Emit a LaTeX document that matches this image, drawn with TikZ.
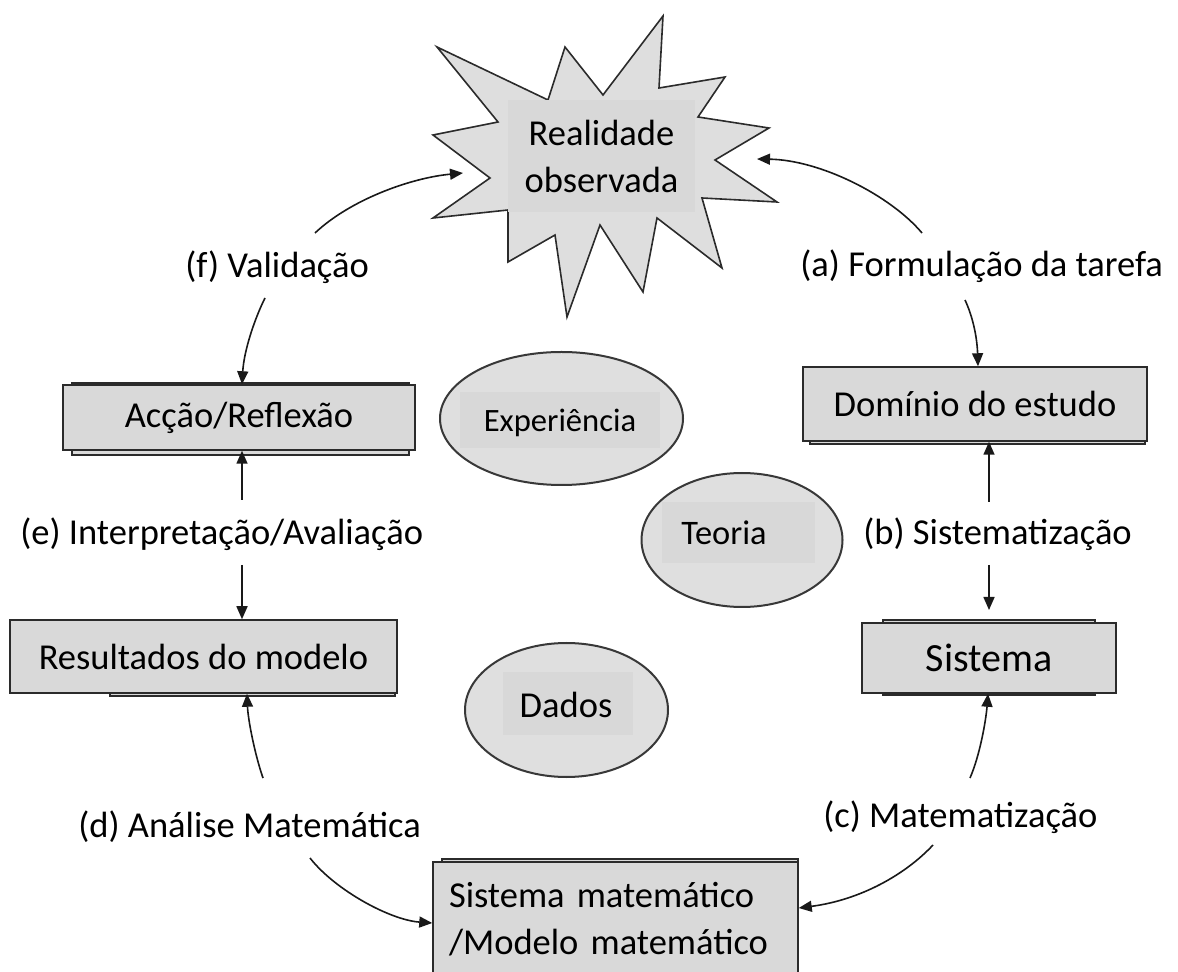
\documentclass[tikz,border=0pt]{standalone}
\usepackage{fontspec}
\setmainfont{Carlito}
\usetikzlibrary{arrows.meta,shapes.geometric}
\definecolor{starfill}{HTML}{DEDEDE}
\definecolor{boxfill}{HTML}{D9D9D9}
\definecolor{ovalfill}{HTML}{DFDFDF}
\definecolor{patchfill}{HTML}{D8D8D8}
\definecolor{edge}{HTML}{2B2B2B}
\begin{document}
\begin{tikzpicture}[x=0.5pt,y=-0.5pt,
  txt/.style={font=\fontsize{18.25}{23.5}\selectfont},
  box/.style={txt, draw=edge, line width=0.75pt, fill=boxfill, inner sep=0pt},
  boxshade/.style={draw=edge, line width=0.9pt, fill=boxfill},
  oval/.style={ellipse, draw=black!78, line width=1pt, fill=ovalfill, inner sep=0pt},
  lbl/.style={txt, anchor=base west, inner sep=0pt},
  arr/.style={line width=0.8pt, black!90, -{Triangle[length=6.5pt,width=5.5pt]}}]
\useasboundingbox (0,0) rectangle (1178,972);

% central burst
\draw[fill=starfill, draw=edge, line width=0.8pt, line join=miter]
  (437,47) -- (548,100) -- (565,47) -- (603,95) -- (663,16) -- (659,88)
  -- (725,77) -- (698,117) -- (769,128) -- (715,160) -- (777,202)
  -- (702,198) -- (722,268) -- (657,218) -- (643,292) -- (600,225)
  -- (567,317) -- (555,235) -- (508,262) -- (508,210) -- (433,218)
  -- (490,178) -- (433,135) -- (498,122) -- cycle;
\node[txt, fill=patchfill, inner sep=0pt, minimum width=93.5pt, minimum height=56pt,
      align=center] (real) at (601.5,156) {Realidade\\observada};

% rectangular stages (shadow edge first, box on top)
\draw[boxshade] (72,383) rectangle (409,455);
\node[box, minimum width=176pt, minimum height=32.5pt] (acc) at (239,417.5) {Acção/Reflexão};
\draw[boxshade] (110,625) rectangle (395,696);
\node[box, minimum width=193.5pt, minimum height=36.5pt] (res) at (203.5,656.5) {Resultados do modelo};
\draw[boxshade] (810,372) rectangle (1145,444);
\node[box, minimum width=172pt, minimum height=37pt] (dom) at (975,404) {Domínio do estudo};
\draw[boxshade] (883,620) rectangle (1095,695);
\node[box, minimum width=127pt, minimum height=35pt, font=\fontsize{20}{24}\selectfont] (sis) at (989,658) {Sistema};
\draw[boxshade] (442,859) rectangle (798,990);
\node[box, minimum width=182.5pt, minimum height=57pt, inner xsep=8pt, text width=166.5pt,
      align=left] (mat) at (615.5,919) {Sistema matemático\\/Modelo matemático};

% knowledge sources
\node[oval, minimum width=121.5pt, minimum height=66.5pt] (exp) at (561.5,418.5) {};
\fill[patchfill] (460,392) rectangle (660,448);
\node[anchor=base, inner sep=0pt, font=\fontsize{16.3}{20}\selectfont] (expt) at (560,432) {Experiência};
\node[oval, minimum width=100.5pt, minimum height=67pt] (teo) at (742,540) {};
\fill[patchfill] (662,502) rectangle (815,563);
\node[anchor=base, inner sep=0pt, font=\fontsize{17.2}{20}\selectfont] (teot) at (724,545) {Teoria};
\node[oval, minimum width=101.5pt, minimum height=67pt] (dad) at (566.5,710) {};
\fill[patchfill] (503,672) rectangle (633,735);
\node[txt, anchor=base, inner sep=0pt] (dadt) at (566,717) {Dados};

% step labels
\node[lbl] (la) at (800,277) {(a) Formulação da tarefa};
\node[lbl] (lb) at (863,545) {(b) Sistematização};
\node[lbl] (lc) at (823,827) {(c) Matematização};
\node[lbl] (ld) at (78,837) {(d) Análise Matemática};
\node[lbl] (le) at (20,545) {(e) Interpretação/Avaliação};
\node[lbl] (lf) at (185,278) {(f) Validação};

% free ends of the connectors
\coordinate (starL) at (463,173);
\coordinate (starR) at (757,159);
\coordinate (aU) at (922,233);
\coordinate (aD) at (965,300);
\coordinate (bU) at (989,502);
\coordinate (bD) at (989,565);
\coordinate (sisTop) at (989,610);
\coordinate (cU) at (970,778);
\coordinate (cD) at (933,845);
\coordinate (dU) at (263,778);
\coordinate (dD) at (310,858);
\coordinate (eU) at (242,500);
\coordinate (eD) at (242,565);
\coordinate (fU) at (315,233);
\coordinate (fD) at (265,298);

% (a)
\draw[arr] (aU) .. controls (890,195) and (820,160) .. (starR);
\draw[arr] (aD) .. controls (972,315) and (977,335) .. (dom.north -| 978,0);
% (b)
\draw[arr] (bU) -- (dom.south -| bU);
\draw[arr] (bD) -- (sisTop);
% (c)
\draw[arr] (cU) .. controls (980,755) and (986,720) .. (sis.south -| 988,0);
\draw[arr] (cD) .. controls (905,875) and (860,900) .. (mat.east |- 0,908);
% (d)
\draw[arr] (dU) .. controls (255,755) and (248,720) .. (res.south -| 247,0);
\draw[arr] (dD) .. controls (335,890) and (390,920) .. (mat.west |- 0,923);
% (e)
\draw[arr] (eU) -- (acc.south -| eU);
\draw[arr] (eD) -- (res.north -| eD);
% (f)
\draw[arr] (fU) .. controls (350,200) and (410,178) .. (starL);
\draw[arr] (fD) .. controls (255,318) and (244,350) .. (acc.north -| 242,0);
\end{tikzpicture}
\end{document}
